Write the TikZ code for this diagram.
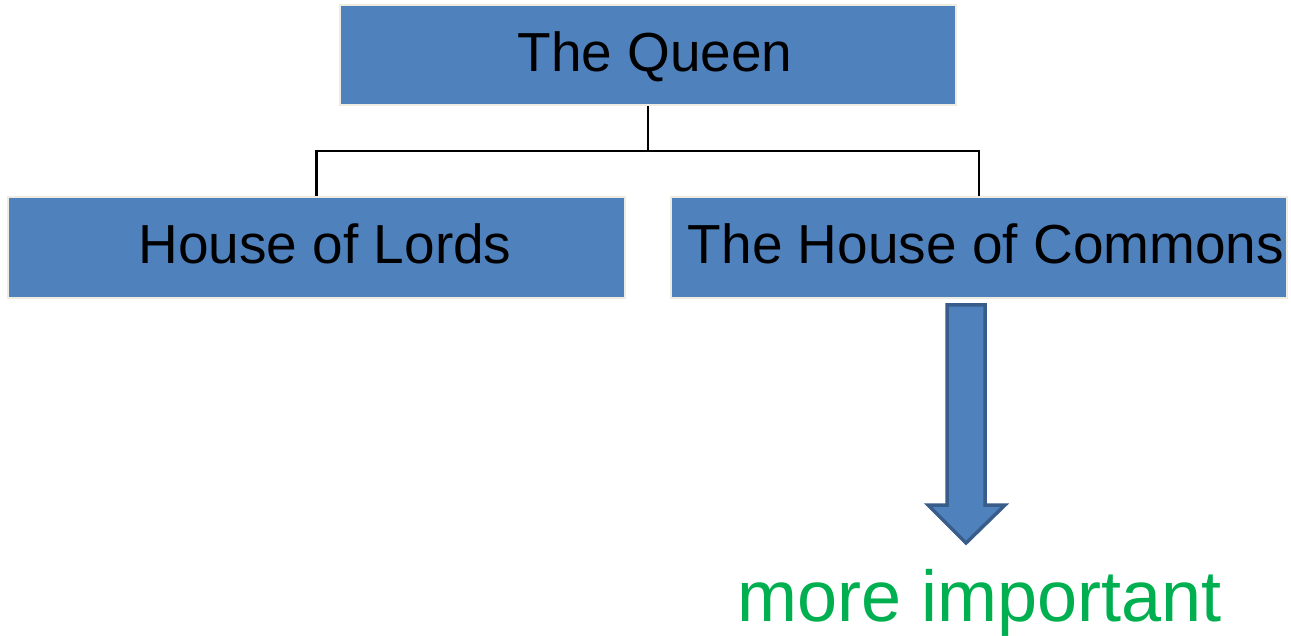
\documentclass[tikz,border=0pt]{standalone}
\usepackage{fontspec}
\setmainfont{Liberation Sans}
\definecolor{boxblue}{HTML}{4F81BD}
\definecolor{boxedge}{HTML}{EEECE1}
\definecolor{arrowedge}{HTML}{385D8A}
\definecolor{impgreen}{HTML}{00B050}
\tikzset{
  orgbox/.style={rectangle, fill=boxblue, draw=boxedge, line width=2.5pt, inner sep=0pt},
  boxtext/.style={anchor=base, inner sep=0pt, font=\fontsize{55}{60}\selectfont, text=black},
  conn/.style={draw=black, line width=2.5pt},
  blockarrow/.style={fill=boxblue, draw=arrowedge, line width=3.5pt, line join=miter},
}
\begin{document}
\begin{tikzpicture}[x=1pt,y=-1pt]
\useasboundingbox (0,0) rectangle (1291,636);
\fill[white] (0,0) rectangle (1291,636);
% boxes
\node[orgbox, minimum width=616pt, minimum height=100pt] (queen) at (648,55) {};
\node[orgbox, minimum width=617pt, minimum height=101pt] (lords) at (316.5,247.5) {};
\node[orgbox, minimum width=616pt, minimum height=101pt] (commons) at (979,247.5) {};
% labels
\node[boxtext] (queenlbl) at (655,72) {The Queen};
\node[boxtext] (lordslbl) at (325,264) {House of Lords};
\node[boxtext] (commonslbl) at (986,264) {The House of Commons};
% connectors
\coordinate (bus) at (648,151);
\draw[conn] (queen.south) -- (bus);
\draw[conn] (lords.north) |- (bus) -| (commons.north);
% block arrow
\draw[blockarrow] (947,305) -- (985,305) -- (985,505) -- (1005,505) -- (966,543)
  -- (928,505) -- (947,505) -- cycle;
% text
\node[anchor=base west, inner sep=0pt, font=\fontsize{72}{80}\selectfont, text=impgreen] (imp) at (737,621) {more important};
\end{tikzpicture}
\end{document}
